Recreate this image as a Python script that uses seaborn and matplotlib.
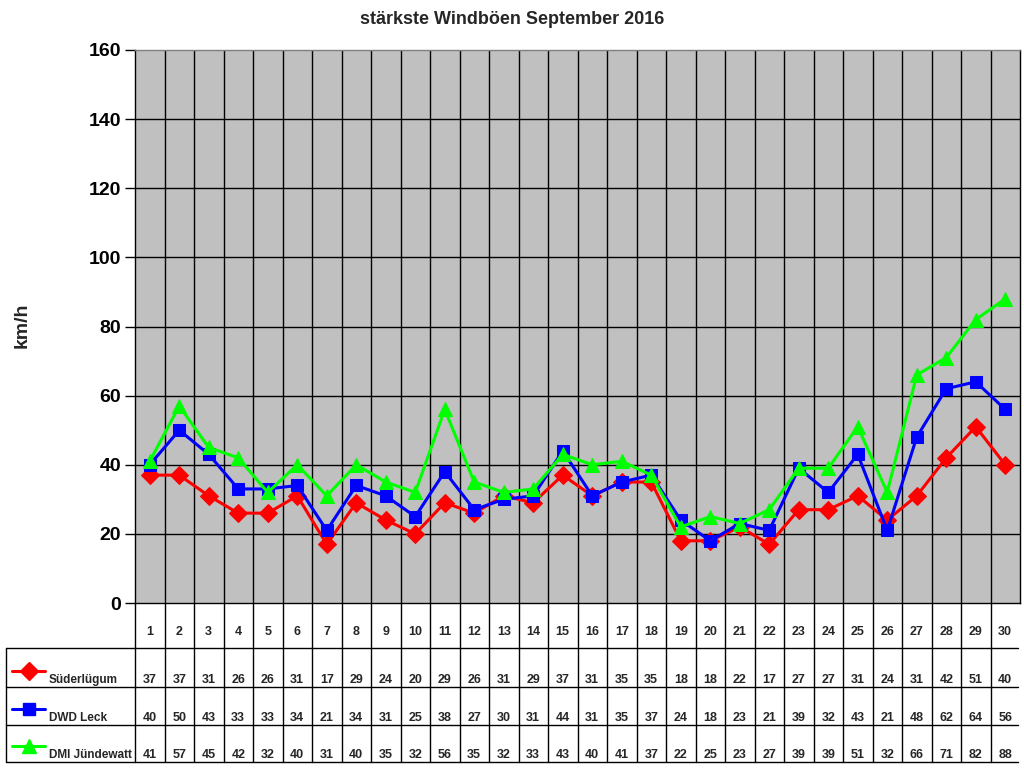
import numpy as np
import pandas as pd
import matplotlib
matplotlib.use("Agg")
import matplotlib.pyplot as plt
import seaborn as sns

# Daten September 2016 - staerkste Windboeen in km/h
tage = list(range(1, 31))
suederluegum = [37, 37, 31, 26, 26, 31, 17, 29, 24, 20, 29, 26, 31, 29, 37,
                31, 35, 35, 18, 18, 22, 17, 27, 27, 31, 24, 31, 42, 51, 40]
dwd_leck = [40, 50, 43, 33, 33, 34, 21, 34, 31, 25, 38, 27, 30, 31, 44,
            31, 35, 37, 24, 18, 23, 21, 39, 32, 43, 21, 48, 62, 64, 56]
dmi_juendewatt = [41, 57, 45, 42, 32, 40, 31, 40, 35, 32, 56, 35, 32, 33, 43,
                  40, 41, 37, 22, 25, 23, 27, 39, 39, 51, 32, 66, 71, 82, 88]
stationen = ["Süderlügum", "DWD Leck", "DMI Jündewatt"]
farben = ["#FF0000", "#0000FF", "#00FF00"]
marker = ["D", "s", "^"]
y_ticks = list(range(0, 161, 20))

df = pd.DataFrame({"Tag": tage * 3,
                   "Wert": suederluegum + dwd_leck + dmi_juendewatt,
                   "Station": sum([[s] * 30 for s in stationen], [])})

sns.set_theme(style="white")
plt.rcParams["font.family"] = ["Liberation Sans", "DejaVu Sans"]
schmal = ["Liberation Sans Narrow", "Liberation Sans", "DejaVu Sans"]

W, H = 1024, 768
fig = plt.figure(figsize=(W / 100, H / 100), dpi=100)


def rect(l, t, r, b):
    return [l / W, 1 - b / H, (r - l) / W, (b - t) / H]


ax = fig.add_axes(rect(135, 50, 1020, 603))
ax.set_facecolor("#C0C0C0")

# Gitter
for x in np.arange(1.5, 30.5, 1):
    ax.axvline(x, color="black", lw=1, zorder=1)
for y in y_ticks[1:-1]:
    ax.axhline(y, color="black", lw=1, zorder=1)

groessen = [9, 9, 10]
for name, col, mk, ms in zip(stationen, farben, marker, groessen):
    sub = df[df["Station"] == name]
    sns.lineplot(data=sub, x="Tag", y="Wert", ax=ax, color=col, marker=mk,
                 markersize=ms, markeredgecolor=col, lw=2.2, zorder=3,
                 legend=False)

ax.set_xlim(0.5, 30.5)
ax.set_ylim(0, 160)
ax.set_xticks([])
ax.set_yticks(y_ticks)
ax.set_yticklabels([str(v) for v in y_ticks], fontsize=14, fontweight="bold")
ax.tick_params(axis="y", left=True, length=7, width=1, direction="out",
               pad=3, colors="black")
ax.set_xlabel("")
ax.set_ylabel("")
for side in ["left", "bottom", "right"]:
    ax.spines[side].set_color("black")
    ax.spines[side].set_linewidth(1)
ax.spines["top"].set_color("#808080")
ax.spines["top"].set_linewidth(1)

fig.text(22 / W, 1 - 325 / H, "km/h", rotation=90, ha="center", va="center",
         fontsize=14, fontweight="bold")
fig.text(512 / W, 1 - 20 / H, "stärkste Windböen September 2016",
         ha="center", va="center", fontsize=13, fontweight="bold")

# Datentabelle unter dem Diagramm
tab = fig.add_axes(rect(135, 603, 1020, 762))
tab.set_xlim(0.5, 30.5)
tab.set_ylim(762, 603)
tab.axis("off")

px = 30 / 885.0
links = 0.5 - (135 - 6) * px
rechts = 0.5 + (1018 - 135) * px
zeilen = [603, 648, 687, 725, 762]

for y in zeilen[1:]:
    tab.plot([links, rechts], [y, y], color="black", lw=1, clip_on=False)
tab.plot([links, links], [zeilen[1], zeilen[-1]], color="black", lw=1,
         clip_on=False)
for x in np.arange(0.5, 30, 1):
    tab.plot([x, x], [zeilen[0], zeilen[-1]], color="black", lw=1,
             clip_on=False)

for t in tage:
    tab.text(t, 632, str(t), ha="center", va="center", fontsize=9,
             fontweight="bold", family=schmal)

werte = [suederluegum, dwd_leck, dmi_juendewatt]
for i, (name, vals, col, mk, ms) in enumerate(zip(stationen, werte, farben,
                                                   marker, groessen)):
    unten = zeilen[i + 2]
    for t, v in zip(tage, vals):
        tab.text(t, unten - 4, str(v), ha="center", va="baseline",
                 fontsize=9, fontweight="bold", family=schmal)
    key_y = unten - 16
    tab.plot([links + 6 * px, links + 39 * px], [key_y, key_y], color=col,
             lw=2.2, clip_on=False)
    tab.plot([links + 22.5 * px], [key_y], marker=mk, color=col,
             markersize=ms, clip_on=False)
    tab.text(links + 43 * px, unten - 4, name, ha="left", va="baseline",
             fontsize=8.5, fontweight="bold", family=schmal)

fig.savefig("out.png", dpi=100)
